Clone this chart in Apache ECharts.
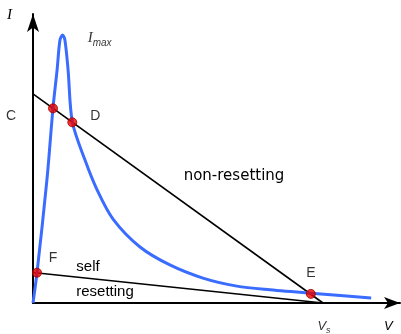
<!DOCTYPE html>
<html>
<head>
<meta charset="utf-8">
<script src="https://cdn.jsdelivr.net/npm/echarts@6/dist/echarts.min.js"></script>
<style>
  html, body { margin: 0; padding: 0; background: #ffffff; }
  #chart { width: 401px; height: 334px; }
</style>
</head>
<body>
<div id="chart"></div>
<script>
// Device I–V characteristic (V in units of Vs, I in units of Imax)
const curveV = [0, 0.0138, 0.048, 0.069, 0.083, 0.093, 0.102, 0.110, 0.121, 0.1355, 0.179, 0.221, 0.276, 0.369, 0.472, 0.586, 0.703, 0.817, 0.959, 1.166];
const curveI = [0, 0.113, 0.459, 0.728, 0.869, 0.981, 1.0, 0.981, 0.869, 0.676, 0.534, 0.422, 0.313, 0.209, 0.142, 0.093, 0.063, 0.049, 0.036, 0.019];

// Load lines, both ending at the supply voltage Vs
const nonResetV = [0, 1];
const nonResetI = [0.78, 0];
const selfResetV = [0, 1];
const selfResetI = [0.114, 0];

// Operating points where the load lines cross the characteristic
const pointNames = ['', 'D', 'E', 'F'];
const pointV = [0.069, 0.1355, 0.958, 0.0138];
const pointI = [0.726, 0.674, 0.034, 0.113];
const pointLabelOffsets = [[0, 0], [23, -6], [0, -21], [16, -15]];

const toPairs = (xs, ys) => xs.map((x, k) => [x, ys[k]]);

const chart = echarts.init(document.getElementById('chart'), null, { renderer: 'canvas' });

const sansFont = '"Liberation Sans", Arial, sans-serif';
const ink = '#000';

chart.setOption({
  animation: false,
  backgroundColor: '#ffffff',
  grid: { left: 33, right: 1, top: 14, bottom: 31 },
  xAxis: {
    type: 'value', min: 0, max: 1.2655,
    axisLine: { show: true, lineStyle: { color: '#000', width: 2 }, symbol: ['none', 'arrow'], symbolSize: [9, 16] },
    axisTick: { show: false }, axisLabel: { show: false }, splitLine: { show: false }
  },
  yAxis: {
    type: 'value', min: 0, max: 1.078,
    axisLine: { show: true, lineStyle: { color: '#000', width: 2 }, symbol: ['none', 'arrow'], symbolSize: [9, 18] },
    axisTick: { show: false }, axisLabel: { show: false }, splitLine: { show: false }
  },
  series: [
    {
      name: 'non-resetting load', type: 'line', data: toPairs(nonResetV, nonResetI),
      showSymbol: false, lineStyle: { color: '#000', width: 1.6 }, z: 2
    },
    {
      name: 'self-resetting load', type: 'line', data: toPairs(selfResetV, selfResetI),
      showSymbol: false, lineStyle: { color: '#000', width: 1.6 }, z: 2
    },
    {
      name: 'characteristic', type: 'line', data: toPairs(curveV, curveI),
      smooth: 0.3, showSymbol: false, lineStyle: { color: '#3a6cff', width: 3 }, z: 3
    },
    {
      name: 'operating points', type: 'scatter', z: 5,
      symbolSize: 9,
      itemStyle: { color: '#e80000', borderColor: '#a00000', borderWidth: 1 },
      data: pointV.map((v, k) => ({
        value: [v, pointI[k]],
        label: {
          show: pointNames[k] !== '', formatter: pointNames[k], position: 'inside',
          offset: pointLabelOffsets[k], color: ink, fontSize: 14, fontFamily: sansFont
        }
      }))
    },
    {
      name: 'annotations', type: 'scatter', z: 6, symbolSize: 0, silent: true,
      data: [
        { value: [nonResetV[0], nonResetI[0]],
          label: { show: true, formatter: 'C', position: 'inside', offset: [-22, 22],
                   color: ink, fontSize: 14, fontFamily: sansFont } },
        { value: [curveV[6], curveI[6]],
          label: { show: true, formatter: '{a|I}{b|max}', position: 'inside', offset: [37, 3],
                   rich: {
                     a: { fontFamily: '"Liberation Serif", serif', fontStyle: 'italic', fontSize: 15, color: ink, verticalAlign: 'bottom', lineHeight: 15 },
                     b: { fontFamily: sansFont, fontStyle: 'italic', fontSize: 10, color: ink, verticalAlign: 'bottom', lineHeight: 10, padding: [0, 0, -3, 0] }
                   } } },
        { value: [nonResetV[1], nonResetI[1]],
          label: { show: true, formatter: '{a|V}{b|s}', position: 'inside', offset: [1, 23],
                   rich: {
                     a: { fontFamily: sansFont, fontStyle: 'italic', fontSize: 13, color: ink, verticalAlign: 'bottom', lineHeight: 13 },
                     b: { fontFamily: sansFont, fontStyle: 'italic', fontSize: 9, color: ink, verticalAlign: 'bottom', lineHeight: 9, padding: [0, 0, -2, 0] }
                   } } }
      ]
    }
  ],
  graphic: [
    { type: 'text', left: 7, top: 8, style: { text: 'I', font: 'italic 15px "Liberation Serif", serif', fill: ink } },
    { type: 'text', left: 384, top: 320, style: { text: 'V', font: 'italic 13px "Liberation Sans", Arial, sans-serif', fill: ink } },
    { type: 'text', x: 234, y: 176, style: { text: 'non-resetting', font: '15px "DejaVu Sans", sans-serif', fill: ink, align: 'center', verticalAlign: 'middle' } },
    { type: 'text', x: 88, y: 267, style: { text: 'self', font: '15px "Liberation Sans", Arial, sans-serif', fill: ink, align: 'center', verticalAlign: 'middle' } },
    { type: 'text', x: 105, y: 292, style: { text: 'resetting', font: '15px "Liberation Sans", Arial, sans-serif', fill: ink, align: 'center', verticalAlign: 'middle' } }
  ]
});
</script>
</body>
</html>
